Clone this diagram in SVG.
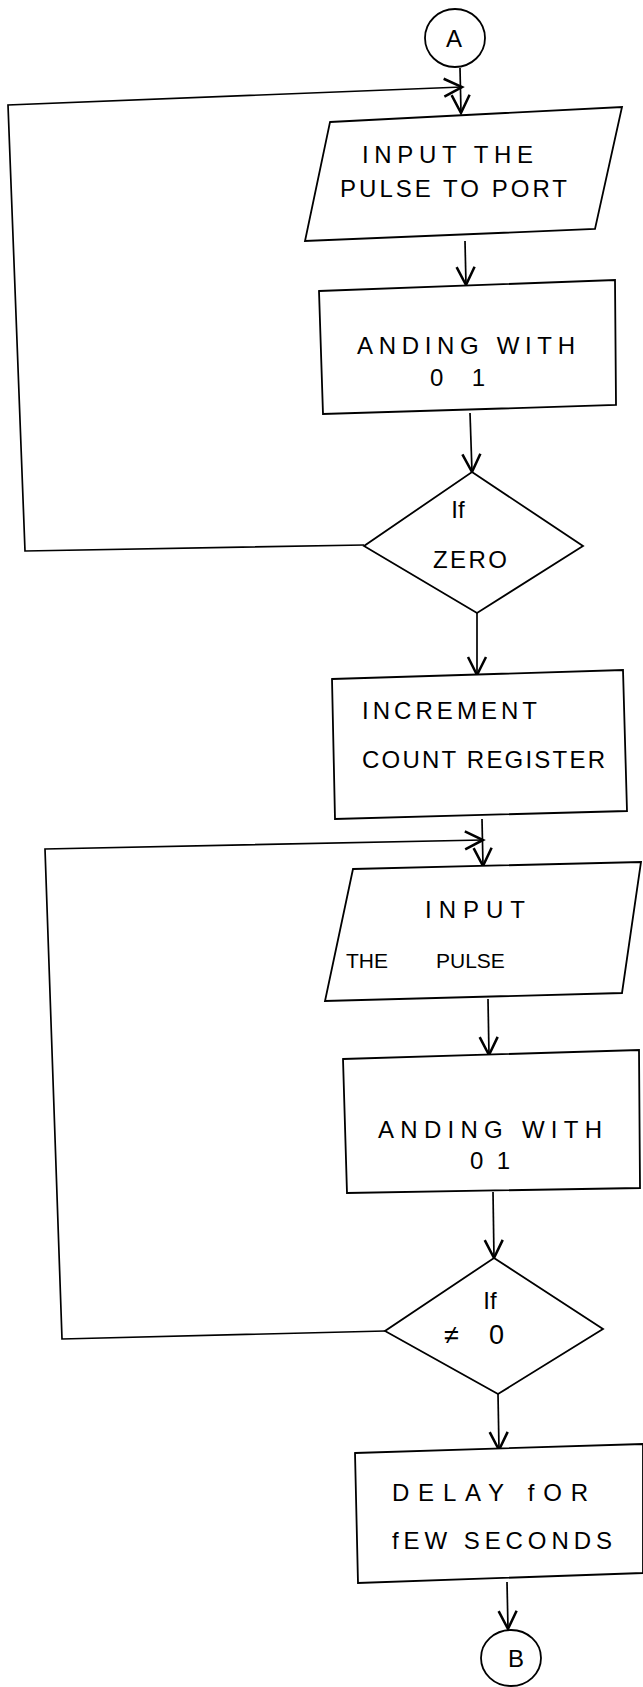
<svg xmlns="http://www.w3.org/2000/svg" width="643" height="1687" viewBox="0 0 643 1687">
  <style>
    .shape { fill: #fff; stroke: #000; stroke-width: 1.8; stroke-linejoin: miter; }
    .wire { fill: none; stroke: #000; stroke-width: 1.7; }
    .lbl { font-family: "Liberation Sans", "DejaVu Sans", sans-serif; font-size: 24px; fill: #000; }
    .small { font-size: 21px; }
    .big { font-size: 27px; }
  </style>
  <defs>
    <marker id="arrow" markerUnits="userSpaceOnUse" markerWidth="24" markerHeight="24" viewBox="-14 -8 16 16" refX="0" refY="0" orient="auto">
      <path d="M-12,-6 L0,0 L-12,6" fill="none" stroke="#000" stroke-width="1.7"/>
    </marker>
  </defs>
  <rect width="643" height="1687" fill="#fff"/>

  <!-- flow connectors -->
  <g id="connectors">
    <line class="wire" x1="460" y1="68" x2="461" y2="113" marker-end="url(#arrow)"/>
    <polyline class="wire" points="364,545 25,551 8,105 462,87" marker-end="url(#arrow)"/>
    <line class="wire" x1="465" y1="241" x2="466" y2="285" marker-end="url(#arrow)"/>
    <line class="wire" x1="470" y1="413" x2="472" y2="472" marker-end="url(#arrow)"/>
    <line class="wire" x1="477" y1="613" x2="477" y2="675" marker-end="url(#arrow)"/>
    <line class="wire" x1="482" y1="819" x2="483" y2="866" marker-end="url(#arrow)"/>
    <polyline class="wire" points="385,1331 62,1339 45,849 483,840" marker-end="url(#arrow)"/>
    <line class="wire" x1="488" y1="999" x2="489" y2="1055" marker-end="url(#arrow)"/>
    <line class="wire" x1="493" y1="1192" x2="494" y2="1258" marker-end="url(#arrow)"/>
    <line class="wire" x1="498" y1="1394" x2="499" y2="1450" marker-end="url(#arrow)"/>
    <line class="wire" x1="507" y1="1582" x2="508" y2="1629" marker-end="url(#arrow)"/>
  </g>

  <!-- connector A -->
  <g id="start-A">
    <ellipse class="shape" cx="455" cy="38" rx="30" ry="29"/>
    <text class="lbl" x="454" y="47" text-anchor="middle">A</text>
  </g>

  <!-- read input pulse -->
  <g id="input-pulse-port">
    <polygon class="shape" points="330,122 622,107 595,229 305,241"/>
    <text class="lbl" x="362" y="163" textLength="171" lengthAdjust="spacing">INPUT THE</text>
    <text class="lbl" x="340" y="197" textLength="227" lengthAdjust="spacing">PULSE TO PORT</text>
  </g>

  <!-- mask bit 0 -->
  <g id="and-01-a">
    <polygon class="shape" points="319,291 615,280 616,405 323,414"/>
    <text class="lbl" x="357" y="354" textLength="218" lengthAdjust="spacing">ANDING WITH</text>
    <text class="lbl" x="430" y="386" textLength="55" lengthAdjust="spacing">0 1</text>
  </g>

  <!-- test for zero -->
  <g id="if-zero">
    <polygon class="shape" points="472,472 583,546 477,613 364,546"/>
    <text class="lbl" x="458" y="518" text-anchor="middle">If</text>
    <text class="lbl" x="433" y="568" textLength="74" lengthAdjust="spacing">ZERO</text>
  </g>

  <!-- bump count -->
  <g id="increment-count">
    <polygon class="shape" points="332,679 623,670 627,811 335,819"/>
    <text class="lbl" x="362" y="719" textLength="175" lengthAdjust="spacing">INCREMENT</text>
    <text class="lbl" x="362" y="768" textLength="243" lengthAdjust="spacing">COUNT REGISTER</text>
  </g>

  <!-- read pulse again -->
  <g id="input-pulse">
    <polygon class="shape" points="353,869 641,862 622,993 325,1001"/>
    <text class="lbl" x="425" y="918" textLength="100" lengthAdjust="spacing">INPUT</text>
    <text class="lbl small" y="968"><tspan x="346">THE</tspan><tspan x="436">PULSE</tspan></text>
  </g>

  <!-- mask bit 0 -->
  <g id="and-01-b">
    <polygon class="shape" points="343,1059 639,1050 640,1188 347,1193"/>
    <text class="lbl" x="378" y="1138" textLength="224" lengthAdjust="spacing">ANDING WITH</text>
    <text class="lbl" x="470" y="1169" textLength="40" lengthAdjust="spacing">01</text>
  </g>

  <!-- test for non-zero -->
  <g id="if-nonzero">
    <polygon class="shape" points="494,1258 603,1329 498,1394 385,1331"/>
    <text class="lbl" x="490" y="1309" text-anchor="middle">If</text>
    <text class="lbl big" y="1344"><tspan x="444">≠</tspan><tspan x="489">0</tspan></text>
  </g>

  <!-- wait -->
  <g id="delay">
    <polygon class="shape" points="355,1453 643,1444 643,1573 358,1583"/>
    <text class="lbl" x="392" y="1501" textLength="196" lengthAdjust="spacing">DELAY fOR</text>
    <text class="lbl" x="392" y="1549" textLength="220" lengthAdjust="spacing">fEW SECONDS</text>
  </g>

  <!-- connector B -->
  <g id="end-B">
    <ellipse class="shape" cx="511" cy="1658" rx="30" ry="28"/>
    <text class="lbl" x="516" y="1667" text-anchor="middle">B</text>
  </g>
</svg>
